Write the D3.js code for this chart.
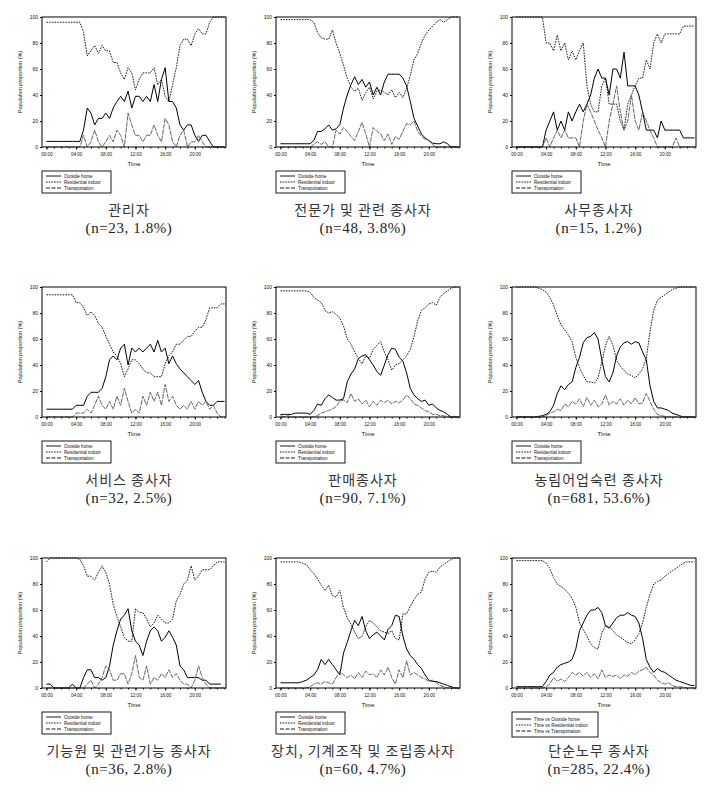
<!DOCTYPE html>
<html>
<head>
<meta charset="utf-8">
<script src="https://cdn.jsdelivr.net/npm/d3@7"></script>
<style>
  body { margin: 0; background: #fff; }
  svg { display: block; }
</style>
</head>
<body>
<div id="chart"></div>
<script>
// 30분 간격 시간축 (0:00 ~ 24:00)
const timeSteps = d3.range(0, 24.01, 0.5);

const titles = ["관리자", "전문가 및 관련 종사자", "사무종사자",
  "서비스 종사자", "판매종사자", "농림어업숙련 종사자",
  "기능원 및 관련기능 종사자", "장치, 기계조작 및 조립종사자", "단순노무 종사자"];
const counts = ["(n=23, 1.8%)", "(n=48, 3.8%)", "(n=15, 1.2%)",
  "(n=32, 2.5%)", "(n=90, 7.1%)", "(n=681, 53.6%)",
  "(n=36, 2.8%)", "(n=60, 4.7%)", "(n=285, 22.4%)"];
const legendLabels = ["Outside home", "Residential indoor", "Transportation"];
const legendLabelsLast = ["Time vs Outside home", "Time vs Residential indoor", "Time vs Transportation"];
const xTickHours = [0, 4, 8, 12, 16, 20];
const yTicks = [0, 20, 40, 60, 80, 100];

// 관리자
const out1 = [4.3,4.3,4.3,4.3,4.3,4.3,4.3,4.3,4.3,4.3, 13,30,26,17,22,22,26,22,30,35,39,35,43,30,39,39,35,39,35,48,35,52,61,35,35,30,17,13,17,17,9,4.3,9,9,4.3,0,0,0,0];
const res1 = [96,96,96,96,96,96,96,96,96,96, 88,70,74,78,72,78,74,74,65,65,57,52,61,57,44,52,57,57,57,61,48,52,39,35,48,61,78,83,83,78,87,91,87,87,96,100,100,100,100];
const tra1 = [0,0,0,0,0,0,0,0,0,0, 9,0,4,13,4,0,4,9,4,13,9,0,26,17,9,9,4,9,9,17,9,4,22,17,4,0,9,13,0,4,4,9,4,0,0,0,0,0,0];
// 전문가
const out2 = [2.5,2.5,2.5,2.5,2.5,2.5,2.5,2.5,2.5, 5,12,12,14,17,13,14,17,30,40,48,54,48,52,46,50,40,46,40,50,56,56,56,56,53,47,35,22,16,10,7,5,3,2.5,2.5,4,2.5,0,0,0];
const res2 = [98,98,98,98,98,98,98,98,98, 96,88,84,83,83,90,80,72,63,53,46,43,45,36,42,46,37,43,44,42,40,44,38,42,38,45,55,67,72,80,86,90,93,96,98,96,98,100,100,100];
const tra2 = [0,0,0,0,0,0,0,0,0, 2,4,2,4,0,0,13,10,15,12,8,5,12,19,10,0,15,12,10,5,10,2,8,6,12,18,17,20,12,8,6,5,2,0,0,0,0,0,0,0];
// 사무종사자
const out3 = [0,0,0,0,0,0,0,0, 13,20,27,13,20,13,27,20,27,33,27,33,40,53,60,53,53,40,60,60,53,73,47,47,47,40,27,13,13,13,7,20,13,13,13,13,13,7,7,7,7];
const res3 = [100,100,100,100,100,100,100,100, 80,80,74,86,74,80,67,74,67,74,80,47,33,27,27,47,53,33,33,33,20,13,33,40,47,53,53,67,60,80,87,80,87,87,87,87,87,93,93,93,93];
const tra3 = [0,0,0,0,0,0,0,0, 7,0,7,13,7,13,7,7,7,0,20,33,27,20,13,7,0,20,33,47,27,13,20,40,20,13,27,20,13,7,0,0,0,0,0,7,0,0,0,0,0];
// 서비스 종사자
const out4 = [6,6,6,6,6,6,6,6, 9,9,9,16,19,19,19,22,31,44,47,44,53,56,40,53,50,53,50,53,56,50,59,50,53,41,47,41,37,34,31,28,25,28,19,12,9,9,12,12,12];
const res4 = [94,94,94,94,94,94,94,94, 88,88,84,78,81,78,72,69,62,56,50,47,41,31,37,44,44,41,37,34,34,31,31,31,41,47,50,56,56,59,62,62,66,69,69,75,84,84,84,87,87];
const tra4 = [0,0,0,0,0,0,0,0, 3,3,3,6,3,9,16,9,6,12,6,16,9,22,12,3,6,3,16,9,19,12,19,9,25,12,16,9,6,9,6,12,6,12,9,12,6,9,3,0,0];
// 판매종사자
const out5 = [2,2,2,2,3,3,3,3, 2,5,10,9,14,17,15,13,13,14,27,33,37,45,47,48,44,40,35,32,40,48,53,52,46,43,34,22,17,14,12,13,9,10,7,5,4,2,0,0,0];
const res5 = [97,97,97,97,97,97,97,97, 96,92,90,88,82,80,81,79,76,70,60,56,50,45,41,47,45,52,55,58,50,44,36,40,41,44,47,52,62,74,82,84,87,88,86,92,95,97,99,100,100];
const tra5 = [1,0,1,0,0,0,0,0, 0,0,1,3,4,5,6,8,12,13,11,18,12,14,10,13,8,12,9,13,11,13,10,12,11,13,17,14,10,9,7,5,4,2,2,1,1,0,0,0,0];
// 농림어업숙련 종사자
const out6 = [0,0,0,0,0,0, 0.5,1,2,4,9,18,24,21,25,27,38,46,57,61,62,65,60,44,31,27,34,47,54,57,58,56,58,57,50,44,24,12,7,7,6,5,3,2,1,0,0,0,0];
const res6 = [100,100,100,100,100,100, 99,98,96,92,86,78,71,67,63,58,46,38,32,27,27,26,30,42,55,62,55,44,39,36,33,32,30,33,37,45,66,82,90,92,94,96,98,99,100,100,100,100,100];
const tra6 = [0,0,0,0,0,0, 0,0,1,3,4,6,5,10,8,12,10,14,8,15,9,13,8,10,17,9,12,10,14,9,13,10,15,10,11,18,12,6,2,1,0.5,0,0,0,0,0,0,0,0];
// 기능원 및 관련기능 종사자
const out7 = [3,3,0,0,0,0,0,3,0, 0,8,14,14,8,8,6,8,17,33,44,53,56,61,44,36,33,25,36,44,47,44,36,39,44,39,33,17,14,8,8,8,8,6,6,3,3,3,3];
const res7 = [97,100,100,100,100,100,100,100,100, 99,94,86,86,83,89,94,89,80,64,55,47,39,36,36,61,58,58,53,47,50,56,53,50,50,53,67,72,80,83,94,83,86,91,91,91,94,97,97,97];
const tra7 = [0,0,0,0,0,0,0,0,0,0, 0,3,6,0,3,8,17,14,6,6,11,11,3,11,25,8,6,17,3,8,6,11,8,14,8,11,6,3,3,0,6,17,8,3,0,0,0,0,0];
// 장치, 기계조작 및 조립종사자
const out8 = [4,4,4,4,4,4, 5,6,8,10,14,22,18,22,18,14,10,27,35,44,52,48,55,44,38,41,43,40,37,45,48,56,55,40,30,25,22,18,15,10,6,5,5,4,3,2,1,0,0];
const res8 = [97,97,97,97,97,97, 96,95,91,88,84,79,75,79,71,70,75,62,54,49,43,38,40,47,52,50,47,44,43,42,44,38,37,57,57,63,68,72,74,84,89,90,89,93,95,97,99,100,100];
const tra8 = [0,0,0,0,0,0, 0,0,1,3,4,3,5,4,3,8,13,10,8,10,7,12,8,13,10,11,8,14,10,16,8,3,14,8,21,10,12,10,8,7,5,6,4,2,1,0,0,0,0];
// 단순노무 종사자
const out9 = [1,1,1,1,1,1,1,1, 5,10,12,16,18,19,20,22,30,44,50,56,60,60,62,58,48,46,50,54,56,56,58,56,55,50,38,22,16,12,15,13,12,10,8,6,5,4,3,2,2];
const res9 = [98,98,98,98,98,98,98,98, 96,92,85,80,78,76,73,69,62,50,45,40,34,31,30,42,48,47,44,41,39,37,35,34,37,42,50,62,72,80,82,83,86,88,90,92,94,96,97,97,97];
const tra9 = [0,0,0,0,0,0,0,0, 1,3,8,5,7,5,8,12,10,12,9,12,8,11,7,14,8,10,9,10,7,10,9,12,10,13,14,16,12,10,6,4,3,4,2,1,1,0.5,0,0,0];

const outside = [out1, out2, out3, out4, out5, out6, out7, out8, out9];
const residential = [res1, res2, res3, res4, res5, res6, res7, res8, res9];
const transport = [tra1, tra2, tra3, tra4, tra5, tra6, tra7, tra8, tra9];

const W = 705, H = 795;
const colX = [42, 276, 512];
const rowY = [17, 287, 558];
const pw = 184, ph = 130;

const svg = d3.select("#chart").append("svg")
  .attr("width", W)
  .attr("height", H);

const x = d3.scaleLinear().domain([-0.6, 24.2]).range([0, pw]);
const y = d3.scaleLinear().domain([0, 100]).range([ph, 0]);

const line = d3.line()
  .x((d, j) => x(timeSteps[j]))
  .y(d => y(d));

// 선 스타일: 실선 / 점선 / 파선
const styles = [
  { stroke: "#000", width: 1, dash: null },
  { stroke: "#000", width: 0.9, dash: "1.6,1.1" },
  { stroke: "#555", width: 0.9, dash: "5,1" }
];

titles.forEach((title, i) => {
  const g = svg.append("g")
    .attr("transform", `translate(${colX[i % 3]},${rowY[Math.floor(i / 3)]})`);

  // x축 보조 눈금 (1시간)
  g.append("g")
    .attr("transform", `translate(0,${ph})`)
    .call(d3.axisBottom(x).tickValues(d3.range(0, 25, 1)).tickFormat("").tickSize(1.5))
    .call(a => a.select(".domain").remove());

  // x축 주 눈금
  g.append("g")
    .attr("transform", `translate(0,${ph})`)
    .attr("font-family", "Liberation Sans, Arial, sans-serif")
    .call(d3.axisBottom(x).tickValues(xTickHours)
      .tickFormat(h => d3.format("02")(h) + ":00")
      .tickSize(2.5).tickPadding(3))
    .call(a => a.select(".domain").remove())
    .call(a => a.selectAll("text").attr("font-size", 4.6).attr("fill", "#111"));

  // y축
  g.append("g")
    .attr("font-family", "Liberation Sans, Arial, sans-serif")
    .call(d3.axisLeft(y).tickValues(yTicks).tickSize(2).tickPadding(2))
    .call(a => a.select(".domain").remove())
    .call(a => a.selectAll("text").attr("font-size", 5).attr("fill", "#111"));

  const series = [outside[i], residential[i], transport[i]];
  series.forEach((vals, k) => {
    g.append("path")
      .datum(vals)
      .attr("fill", "none")
      .attr("stroke", styles[k].stroke)
      .attr("stroke-width", styles[k].width)
      .attr("stroke-dasharray", styles[k].dash)
      .attr("stroke-linejoin", "round")
      .attr("d", line);
  });

  g.append("rect")
    .attr("width", pw)
    .attr("height", ph)
    .attr("fill", "none")
    .attr("stroke", "#000")
    .attr("stroke-width", 1);

  g.append("text")
    .attr("transform", `translate(-20,${ph / 2}) rotate(-90)`)
    .attr("text-anchor", "middle")
    .attr("font-family", "Liberation Sans, Arial, sans-serif")
    .attr("font-size", 5.5)
    .attr("fill", "#111")
    .text("Population proportion (%)");

  g.append("text")
    .attr("x", pw / 2)
    .attr("y", ph + 19)
    .attr("text-anchor", "middle")
    .attr("font-family", "Liberation Sans, Arial, sans-serif")
    .attr("font-size", 6)
    .attr("fill", "#111")
    .text("Time");

  // 범례
  const last = i === 8;
  const labels = last ? legendLabelsLast : legendLabels;
  const lg = g.append("g").attr("transform", "translate(0,154)");
  lg.append("rect")
    .attr("width", last ? 86 : 69)
    .attr("height", last ? 25 : 22)
    .attr("fill", "#fff")
    .attr("stroke", "#000")
    .attr("stroke-width", 0.9);
  labels.forEach((lab, k) => {
    const ly = (last ? 7 : 5) + k * 6;
    lg.append("line")
      .attr("x1", 4).attr("x2", 19)
      .attr("y1", ly).attr("y2", ly)
      .attr("stroke", "#000")
      .attr("stroke-width", 0.9)
      .attr("stroke-dasharray", k === 0 ? null : (k === 1 ? "1.6,1.1" : "4,1.5"));
    lg.append("text")
      .attr("x", 22)
      .attr("y", ly + 1.6)
      .attr("font-family", "Liberation Sans, Arial, sans-serif")
      .attr("font-size", 4.6)
      .attr("fill", "#111")
      .text(lab);
  });

  // 제목
  g.append("text")
    .attr("x", pw / 2 - 5)
    .attr("y", 198)
    .attr("text-anchor", "middle")
    .attr("font-family", "Noto Sans CJK KR, sans-serif")
    .attr("font-size", 14)
    .attr("letter-spacing", 1)
    .attr("fill", "#333")
    .text(title);

  g.append("text")
    .attr("x", pw / 2 - 5)
    .attr("y", 216)
    .attr("text-anchor", "middle")
    .attr("font-family", "Liberation Serif, Times New Roman, serif")
    .attr("font-size", 15)
    .attr("letter-spacing", 0.6)
    .attr("fill", "#222")
    .text(counts[i]);
});
</script>
</body>
</html>
